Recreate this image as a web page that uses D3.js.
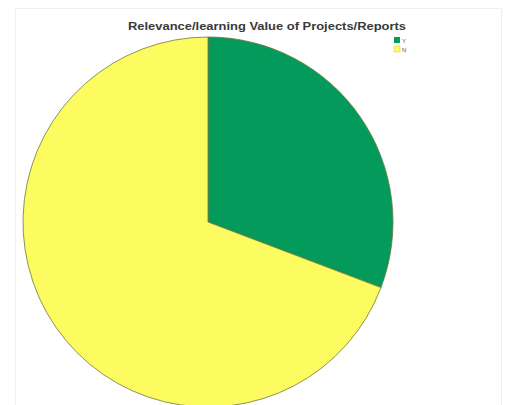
<!DOCTYPE html>
<html><head><meta charset="utf-8">
<script src="https://cdn.jsdelivr.net/npm/d3@7"></script>
<style>body{margin:0;background:#fff;overflow:hidden}</style>
</head><body>
<svg id="c" width="515" height="405"></svg>
<script>
const title = "Relevance/learning Value of Projects/Reports";
const categories = ["Y", "N"];
const values = [4, 9];
const colors = ["#039a5c", "#fcfc60"];

const svg = d3.select("#c");
svg.append("rect").attr("x",15.5).attr("y",8.5).attr("width",486).attr("height",420)
  .attr("fill","none").attr("stroke","#efefef");

const cx = 208, cy = 222, r = 185;
const pie = d3.pie().sort(null).value(d => d)(values);
const arc = d3.arc().innerRadius(0).outerRadius(r);
const g = svg.append("g").attr("transform", `translate(${cx},${cy})`);
g.selectAll("path").data(pie).join("path")
  .attr("d", arc).attr("fill", (d,i) => colors[i])
  .attr("stroke", "#6f7a3a").attr("stroke-width", 0.8);

svg.append("text").attr("x", 128).attr("y", 30)
  .attr("font-family","Liberation Sans, Arial, sans-serif").attr("font-weight","bold")
  .attr("font-size", 11.5).attr("fill","#3a3a3a")
  .attr("textLength", 278).attr("lengthAdjust","spacingAndGlyphs").text(title);

const leg = svg.append("g").attr("transform","translate(394,37)");
categories.forEach((c,i) => {
  const row = leg.append("g").attr("transform", `translate(0,${i*9})`);
  row.append("rect").attr("width",6).attr("height",6).attr("fill",colors[i]).attr("stroke", i ? "#c8c860" : "none").attr("stroke-width",0.5);
  row.append("text").attr("x",8).attr("y",6).attr("font-size",6)
    .attr("font-family","Liberation Sans, Arial, sans-serif").attr("fill","#555").text(c);
});
</script>
</body></html>
